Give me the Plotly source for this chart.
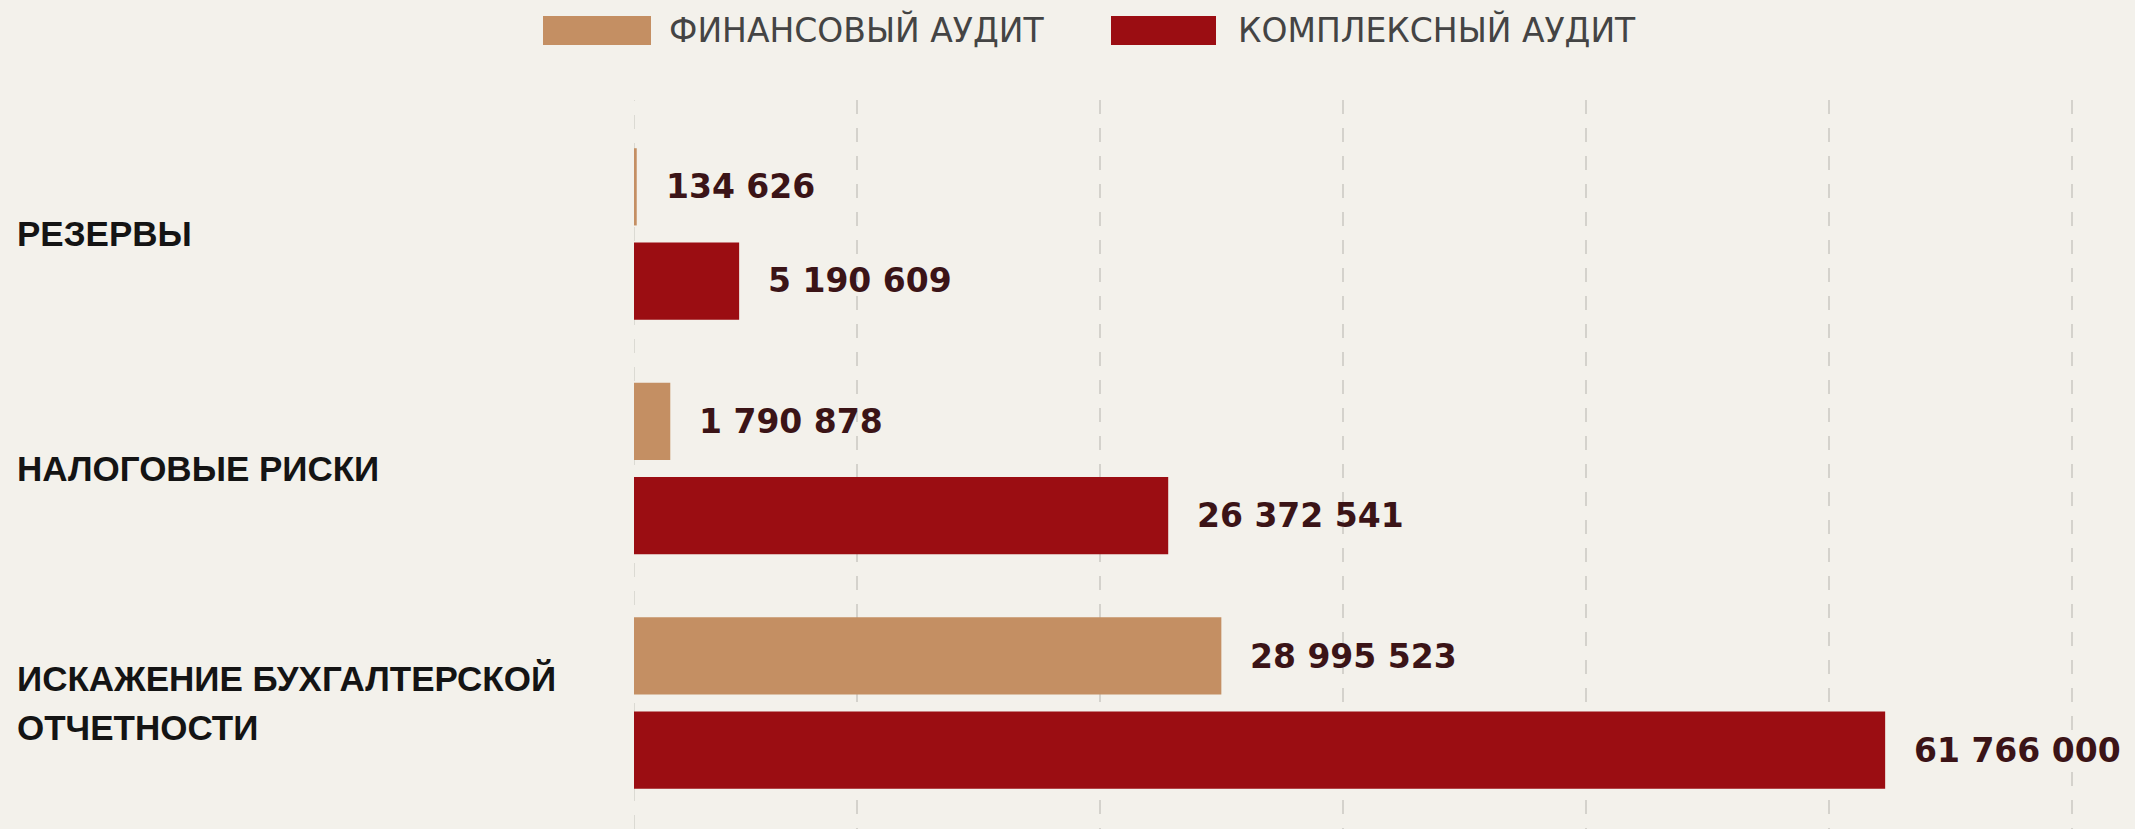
import plotly.graph_objects as go

# ---- data -------------------------------------------------------------
categories = ["РЕЗЕРВЫ", "НАЛОГОВЫЕ РИСКИ", "ИСКАЖЕНИЕ БУХГАЛТЕРСКОЙ<br>ОТЧЕТНОСТИ"]
series_names = ["ФИНАНСОВЫЙ АУДИТ", "КОМПЛЕКСНЫЙ АУДИТ"]
financial_audit = [134626, 1790878, 28995523]
complex_audit = [5190609, 26372541, 61766000]

# ---- page geometry / style -------------------------------------------
W, H = 2135, 829
ML, MR, MT, MB = 634, 0, 100, 0
PW, PH = W - ML - MR, H - MT - MB

BG = "#f3f1eb"
COLORS = ["#c48f63", "#9b0d12"]
LABEL_COLOR = "#3b1417"
GRID_COLOR = "#d4d2cc"
GRID_DASH = "14px,14px"
X_MAX = 74.1e6
GRID_AT = [11e6, 23e6, 35e6, 47e6, 59e6, 71e6]


def px_x(px):
    """Page x pixel -> paper coordinate."""
    return (px - ML) / PW


def px_y(py):
    """Page y pixel (from top) -> paper coordinate."""
    return (H - MB - py) / PH


def fmt(v):
    return f"{v:,}".replace(",", " ")


series = [financial_audit, complex_audit]

fig = go.Figure()
for name, vals, color in zip(series_names, series, COLORS):
    fig.add_trace(go.Bar(
        y=categories, x=vals, name=name, orientation="h",
        marker=dict(color=color, line=dict(width=0)),
        hoverinfo="skip",
    ))

annotations = []

# value labels next to each bar end
shifts = [47, -47]
for vals, ys in zip(series, shifts):
    for cat, v in zip(categories, vals):
        annotations.append(dict(
            x=v, y=cat, xref="x", yref="y", text=fmt(v), showarrow=False,
            xanchor="left", yanchor="middle", xshift=27, yshift=ys,
            font=dict(family="DejaVu Sans", size=33, color=LABEL_COLOR, weight="bold"),
        ))

# category labels on the left, left-aligned
LINE_GAP = 49
for cat in categories:
    lines = cat.split("<br>")
    n = len(lines)
    for k, line in enumerate(lines):
        annotations.append(dict(
            x=px_x(15), y=cat, xref="paper", yref="y", text=line, showarrow=False,
            xanchor="left", yanchor="middle",
            yshift=((n - 1) / 2 - k) * LINE_GAP,
            font=dict(family="Liberation Sans", size=35, color="#141414", weight="bold"),
        ))

# legend drawn as swatches + text above the plot
legend_items = [(543, 651, 667), (1111, 1216, 1236)]
shapes = []
for (x0, x1, tx), name, color in zip(legend_items, series_names, COLORS):
    shapes.append(dict(
        type="rect", xref="paper", yref="paper",
        x0=px_x(x0), x1=px_x(x1), y0=px_y(45), y1=px_y(16),
        fillcolor=color, line=dict(width=0), layer="above",
    ))
    annotations.append(dict(
        x=px_x(tx), y=px_y(30.5), xref="paper", yref="paper", text=name,
        showarrow=False, xanchor="left", yanchor="middle",
        font=dict(family="DejaVu Sans", size=33, color="#444444"),
    ))

# dashed guide at the bar baseline
shapes.append(dict(
    type="line", xref="x", yref="paper", x0=0, x1=0, y0=0, y1=1,
    line=dict(color=GRID_COLOR, width=1.5, dash=GRID_DASH), layer="below",
))

fig.update_layout(
    width=W, height=H,
    margin=dict(l=ML, r=MR, t=MT, b=MB, pad=0),
    paper_bgcolor=BG, plot_bgcolor=BG,
    barmode="group", bargap=0.197, bargroupgap=0.18,
    showlegend=False,
    annotations=annotations, shapes=shapes,
    xaxis=dict(
        range=[0, X_MAX], tickmode="array", tickvals=GRID_AT,
        showticklabels=False, ticks="",
        showgrid=True, gridcolor=GRID_COLOR, gridwidth=1.5, griddash=GRID_DASH,
        zeroline=False, showline=False, fixedrange=True,
    ),
    yaxis=dict(
        type="category", categoryorder="array", categoryarray=categories,
        range=[2.537, -0.571], showticklabels=False, ticks="",
        showgrid=False, zeroline=False, showline=False, fixedrange=True,
    ),
)

fig.write_html("out.html", config={"displayModeBar": False})
